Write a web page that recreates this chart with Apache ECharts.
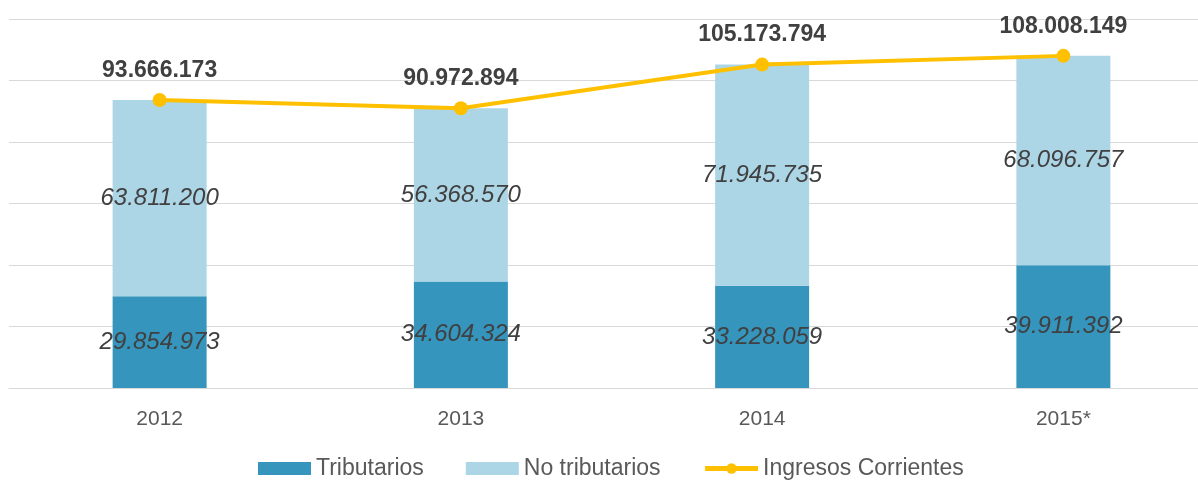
<!DOCTYPE html>
<html>
<head>
<meta charset="utf-8">
<script src="https://cdn.jsdelivr.net/npm/echarts@6/dist/echarts.min.js"></script>
<style>
    html, body { margin: 0; padding: 0; background: #fff; overflow: hidden; }
    #chart { width: 1214px; height: 481px; }
</style>
</head>
<body>
<div id="chart"></div>
<script>
(function() {
    'use strict';

    var years = ['2012', '2013', '2014', '2015*'];
    var tributarios = [29854973, 34604324, 33228059, 39911392];
    var noTributarios = [63811200, 56368570, 71945735, 68096757];
    var ingresos = [93666173, 90972894, 105173794, 108008149];

    function fmt(v) {
        return String(v).replace(/\B(?=(\d{3})+(?!\d))/g, '.');
    }

    var font = 'Arial, "Liberation Sans", sans-serif';
    var chart = echarts.init(document.getElementById('chart'));

    var barLabel = {
        show: true,
        position: 'inside',
        fontFamily: font,
        fontSize: 24,
        fontStyle: 'italic',
        color: '#404040',
        formatter: function(p) { return fmt(p.value); }
    };

    chart.setOption({
        animation: false,
        textStyle: { fontFamily: font },
        grid: { left: 9, top: 19, right: 0, height: 369, containLabel: false },
        legend: {
            top: 457,
            left: 258,
            padding: 0,
            itemWidth: 53,
            itemHeight: 13,
            itemGap: 42,
            textStyle: { fontFamily: font, fontSize: 23, color: '#595959' },
            data: [
                { name: 'Tributarios', icon: 'rect' },
                { name: 'No tributarios', icon: 'rect' },
                { name: 'Ingresos Corrientes', lineStyle: { width: 5 } }
            ]
        },
        xAxis: {
            type: 'category',
            data: years,
            axisLine: { lineStyle: { color: '#d9d9d9', width: 1 } },
            axisTick: { show: false },
            axisLabel: { fontSize: 21, color: '#595959', margin: 21 }
        },
        yAxis: {
            type: 'value',
            min: 0,
            max: 120000000,
            interval: 20000000,
            axisLabel: { show: false },
            axisLine: { show: false },
            axisTick: { show: false },
            splitLine: { lineStyle: { color: '#d9d9d9', width: 1 } }
        },
        series: [
            {
                name: 'Tributarios',
                type: 'bar',
                stack: 'total',
                barWidth: 94,
                itemStyle: { color: '#3595BD' },
                label: barLabel,
                data: tributarios
            },
            {
                name: 'No tributarios',
                type: 'bar',
                stack: 'total',
                barWidth: 94,
                itemStyle: { color: '#ACD5E6' },
                label: barLabel,
                data: noTributarios
            },
            {
                name: 'Ingresos Corrientes',
                type: 'line',
                symbol: 'circle',
                symbolSize: 14,
                lineStyle: { color: '#FFC000', width: 4 },
                itemStyle: { color: '#FFC000' },
                label: {
                    show: true,
                    position: 'top',
                    distance: 11,
                    fontFamily: font,
                    fontSize: 23,
                    fontWeight: 'bold',
                    color: '#404040',
                    formatter: function(p) { return fmt(p.value); }
                },
                data: ingresos
            }
        ]
    });
})();
</script>
</body>
</html>
